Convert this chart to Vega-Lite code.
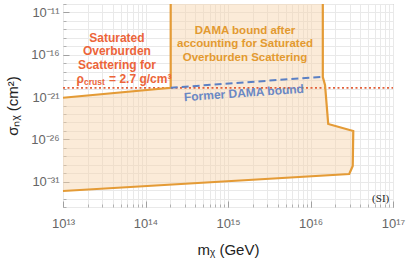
{
 "$schema": "https://vega.github.io/schema/vega-lite/v6.json",
 "width": 330,
 "height": 203,
 "autosize": {"type": "none"},
 "padding": {"left": 63, "top": 4, "right": 14, "bottom": 54},
 "config": {"view": {"stroke": "#a0a0a0", "strokeWidth": 1}, "font": "Liberation Sans"},
 "datasets": {
  "region": [
   {"mx": 1.41e16, "sigma": 1e-10, "ord": 1},
   {"mx": 1.41e16, "sigma": 2.34e-19, "ord": 2},
   {"mx": 1.50e16, "sigma": 2.63e-20, "ord": 3},
   {"mx": 1.64e16, "sigma": 6.46e-25, "ord": 4},
   {"mx": 3.30e16, "sigma": 9.5e-26, "ord": 5},
   {"mx": 3.25e16, "sigma": 7.1e-30, "ord": 6},
   {"mx": 2.95e16, "sigma": 7.9e-31, "ord": 7},
   {"mx": 1e13, "sigma": 7.8e-33, "ord": 8},
   {"mx": 1e13, "sigma": 8.3e-22, "ord": 9},
   {"mx": 2.02e14, "sigma": 1.26e-20, "ord": 10},
   {"mx": 2.02e14, "sigma": 1e-10, "ord": 11}
  ],
  "edge": [
   {"mx": 2.02e14, "sigma": 1e-10, "seg": "a", "ord": 1},
   {"mx": 2.02e14, "sigma": 1.26e-20, "seg": "a", "ord": 2},
   {"mx": 1e13, "sigma": 8.3e-22, "seg": "a", "ord": 3},
   {"mx": 1e13, "sigma": 7.8e-33, "seg": "b", "ord": 1},
   {"mx": 2.95e16, "sigma": 7.9e-31, "seg": "b", "ord": 2},
   {"mx": 3.25e16, "sigma": 7.1e-30, "seg": "b", "ord": 3},
   {"mx": 3.30e16, "sigma": 9.5e-26, "seg": "b", "ord": 4},
   {"mx": 1.64e16, "sigma": 6.46e-25, "seg": "b", "ord": 5},
   {"mx": 1.50e16, "sigma": 2.63e-20, "seg": "b", "ord": 6},
   {"mx": 1.41e16, "sigma": 2.34e-19, "seg": "b", "ord": 7},
   {"mx": 1.41e16, "sigma": 1e-10, "seg": "b", "ord": 8}
  ],
  "former": [
   {"mx": 2.02e14, "sigma": 1.26e-20},
   {"mx": 1.40e16, "sigma": 2.5e-19}
  ],
  "crust": [
   {"mx": 1e13, "sigma": 1.2e-20},
   {"mx": 1e17, "sigma": 1.2e-20}
  ],
  "notes": [
   {"grp": "red", "t": "Saturated", "mx": 4.5e13, "sigma": 9.5e-15},
   {"grp": "red", "t": "Overburden", "mx": 4.5e13, "sigma": 2.75e-16},
   {"grp": "red", "t": "Scattering for", "mx": 4.5e13, "sigma": 6.2e-18},
   {"grp": "orange", "t": "DAMA bound after", "mx": 1.61e15, "sigma": 6.45e-14},
   {"grp": "orange", "t": "accounting for Saturated", "mx": 1.61e15, "sigma": 1.86e-15},
   {"grp": "orange", "t": "Overburden Scattering", "mx": 1.61e15, "sigma": 4.2e-17},
   {"grp": "blue", "t": "Former DAMA bound", "mx": 1.56e15, "sigma": 3.0e-21},
   {"grp": "si", "t": "(SI)", "mx": 9.0e16, "sigma": 8.9e-34},
   {"grp": "rho", "t": "ρ", "mx": 1.8e13, "sigma": 1.35e-19},
   {"grp": "sub", "t": "crust", "mx": 1.8e13, "sigma": 1.35e-19},
   {"grp": "eq", "t": "= 2.7 g/cm³", "mx": 1.8e13, "sigma": 1.35e-19}
  ]
 },
 "layer": [
  {
   "data": {"name": "region"},
   "mark": {"type": "line", "fill": "#F7D3A8", "fillOpacity": 0.45, "strokeOpacity": 0, "interpolate": "linear"},
   "encoding": {
    "x": {"field": "mx", "type": "quantitative",
          "scale": {"type": "log", "domain": [1e13, 1e17], "nice": false},
          "axis": {"orient": "bottom", "title": null, "labels": false, "domain": false, "grid": true, "gridColor": "#e9e9e9", "tickColor": "#b0b0b0", "tickSize": -3,
                   "values": [1e13,2e13,3e13,4e13,5e13,6e13,7e13,8e13,9e13,1e14,2e14,3e14,4e14,5e14,6e14,7e14,8e14,9e14,1e15,2e15,3e15,4e15,5e15,6e15,7e15,8e15,9e15,1e16,2e16,3e16,4e16,5e16,6e16,7e16,8e16,9e16,1e17]}},
    "y": {"field": "sigma", "type": "quantitative",
          "scale": {"type": "log", "domain": [1e-34, 1e-10], "nice": false},
          "axis": {"orient": "left", "title": null, "labels": false, "domain": false, "grid": true, "gridColor": "#e9e9e9", "tickColor": "#b0b0b0", "tickSize": -3,
                   "values": [1e-34,1e-33,1e-32,1e-31,1e-30,1e-29,1e-28,1e-27,1e-26,1e-25,1e-24,1e-23,1e-22,1e-21,1e-20,1e-19,1e-18,1e-17,1e-16,1e-15,1e-14,1e-13,1e-12,1e-11,1e-10]}},
    "order": {"field": "ord", "type": "quantitative"}
   }
  },
  {
   "data": {"name": "crust"},
   "mark": {"type": "line", "color": "#E2603A", "strokeWidth": 1.6, "strokeDash": [2, 2.5]},
   "encoding": {
    "x": {"field": "mx", "type": "quantitative",
          "axis": {"orient": "bottom", "title": "mᵪ (GeV)", "grid": false, "domain": false, "tickColor": "#a0a0a0", "tickSize": -6,
                   "values": [1e13, 1e14, 1e15, 1e16, 1e17],
                   "labelExpr": "'10' + ['¹³','¹⁴','¹⁵','¹⁶','¹⁷'][round(log(datum.value)/LN10) - 13]",
                   "labelFont": "Liberation Sans", "labelFontSize": 13, "labelColor": "#666", "labelPadding": 16, "labelFlush": false,
                   "titleFont": "Liberation Sans", "titleFontSize": 15, "titleFontWeight": "normal", "titleColor": "#222", "titlePadding": 12}},
    "y": {"field": "sigma", "type": "quantitative",
          "axis": {"orient": "left", "title": "σₙᵪ (cm²)", "grid": false, "domain": false, "tickColor": "#a0a0a0", "tickSize": -6,
                   "values": [1e-31, 1e-26, 1e-21, 1e-16, 1e-11],
                   "labelExpr": "'10' + ['⁻³¹','⁻²⁶','⁻²¹','⁻¹⁶','⁻¹¹'][(round(log(datum.value)/LN10) + 31)/5]",
                   "labelFont": "Liberation Sans", "labelFontSize": 13, "labelColor": "#666", "labelPadding": 10,
                   "titleFont": "Liberation Sans", "titleFontSize": 15, "titleFontWeight": "normal", "titleColor": "#222", "titlePadding": 10}}
   }
  },
  {
   "data": {"name": "edge"},
   "mark": {"type": "line", "color": "#E49B36", "strokeWidth": 2.2, "strokeJoin": "miter"},
   "encoding": {
    "x": {"field": "mx", "type": "quantitative", "axis": null},
    "y": {"field": "sigma", "type": "quantitative", "axis": null},
    "detail": {"field": "seg"},
    "order": {"field": "ord", "type": "quantitative"}
   }
  },
  {
   "data": {"name": "former"},
   "mark": {"type": "line", "color": "#5B80C4", "strokeWidth": 2, "strokeDash": [7, 4]},
   "encoding": {
    "x": {"field": "mx", "type": "quantitative", "axis": null},
    "y": {"field": "sigma", "type": "quantitative", "axis": null}
   }
  },
  {
   "data": {"name": "notes"},
   "transform": [{"filter": "datum.grp == 'red'"}],
   "mark": {"type": "text", "color": "#EC6439", "font": "Liberation Sans", "fontSize": 12, "fontWeight": "bold", "align": "center", "baseline": "middle"},
   "encoding": {
    "x": {"field": "mx", "type": "quantitative", "axis": null},
    "y": {"field": "sigma", "type": "quantitative", "axis": null},
    "text": {"field": "t"}
   }
  },
  {
   "data": {"name": "notes"},
   "transform": [{"filter": "datum.grp == 'rho'"}],
   "mark": {"type": "text", "color": "#EC6439", "font": "Liberation Sans", "fontSize": 12, "fontWeight": "bold", "align": "right", "baseline": "middle"},
   "encoding": {
    "x": {"field": "mx", "type": "quantitative", "axis": null},
    "y": {"field": "sigma", "type": "quantitative", "axis": null},
    "text": {"field": "t"}
   }
  },
  {
   "data": {"name": "notes"},
   "transform": [{"filter": "datum.grp == 'sub'"}],
   "mark": {"type": "text", "color": "#EC6439", "font": "Liberation Sans", "fontSize": 8.5, "fontWeight": "bold", "align": "left", "baseline": "middle", "dx": 0, "dy": 3},
   "encoding": {
    "x": {"field": "mx", "type": "quantitative", "axis": null},
    "y": {"field": "sigma", "type": "quantitative", "axis": null},
    "text": {"field": "t"}
   }
  },
  {
   "data": {"name": "notes"},
   "transform": [{"filter": "datum.grp == 'eq'"}],
   "mark": {"type": "text", "color": "#EC6439", "font": "Liberation Sans", "fontSize": 12, "fontWeight": "bold", "align": "left", "baseline": "middle", "dx": 25},
   "encoding": {
    "x": {"field": "mx", "type": "quantitative", "axis": null},
    "y": {"field": "sigma", "type": "quantitative", "axis": null},
    "text": {"field": "t"}
   }
  },
  {
   "data": {"name": "notes"},
   "transform": [{"filter": "datum.grp == 'orange'"}],
   "mark": {"type": "text", "color": "#E39A30", "font": "Liberation Sans", "fontSize": 11.5, "fontWeight": "bold", "align": "center", "baseline": "middle"},
   "encoding": {
    "x": {"field": "mx", "type": "quantitative", "axis": null},
    "y": {"field": "sigma", "type": "quantitative", "axis": null},
    "text": {"field": "t"}
   }
  },
  {
   "data": {"name": "notes"},
   "transform": [{"filter": "datum.grp == 'blue'"}],
   "mark": {"type": "text", "color": "#6A88C4", "font": "Liberation Sans", "fontSize": 12, "fontWeight": "bold", "align": "center", "baseline": "middle", "angle": -4},
   "encoding": {
    "x": {"field": "mx", "type": "quantitative", "axis": null},
    "y": {"field": "sigma", "type": "quantitative", "axis": null},
    "text": {"field": "t"}
   }
  },
  {
   "data": {"name": "notes"},
   "transform": [{"filter": "datum.grp == 'si'"}],
   "mark": {"type": "text", "color": "#222", "font": "Liberation Serif", "fontSize": 11, "fontWeight": "normal", "align": "right", "baseline": "middle"},
   "encoding": {
    "x": {"field": "mx", "type": "quantitative", "axis": null},
    "y": {"field": "sigma", "type": "quantitative", "axis": null},
    "text": {"field": "t"}
   }
  }
 ],
 "resolve": {"axis": {"x": "independent", "y": "independent"}}
}
